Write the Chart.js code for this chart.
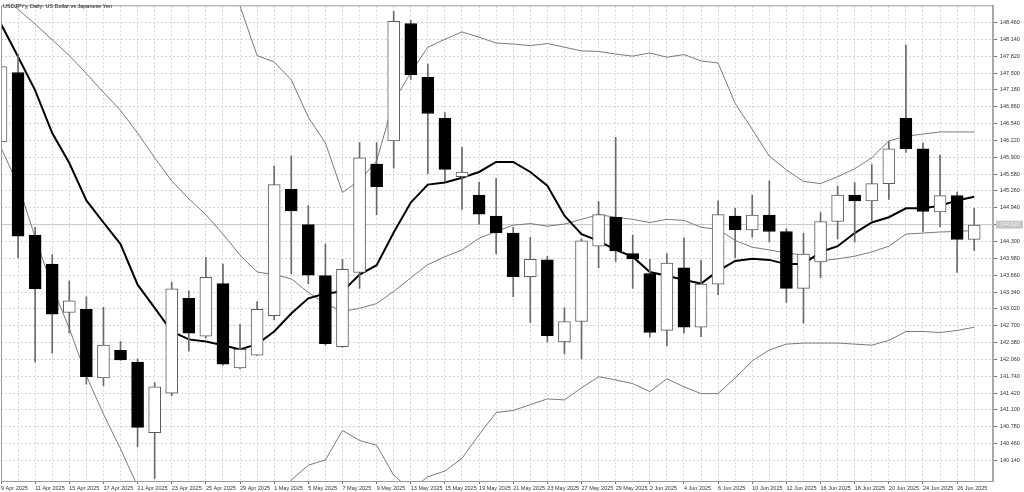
<!DOCTYPE html>
<html>
<head>
<meta charset="utf-8">
<script src="https://cdn.jsdelivr.net/npm/chart.js@4"></script>
<style>
  html, body { margin: 0; padding: 0; background: #fff; }
</style>
</head>
<body>
<canvas id="myChart" width="1024" height="492"></canvas>
<script>
// USDJPY daily, 9 Apr - 27 Jun 2025
const title = 'USDJPYy, Daily: US Dollar vs Japanese Yen';

const dates = [
  '9 Apr 2025', '10 Apr 2025', '11 Apr 2025', '14 Apr 2025', '15 Apr 2025', '16 Apr 2025', '17 Apr 2025', '18 Apr 2025',
  '21 Apr 2025', '22 Apr 2025', '23 Apr 2025', '24 Apr 2025', '25 Apr 2025', '28 Apr 2025', '29 Apr 2025', '30 Apr 2025',
  '1 May 2025', '2 May 2025', '5 May 2025', '6 May 2025', '7 May 2025', '8 May 2025', '9 May 2025', '12 May 2025',
  '13 May 2025', '14 May 2025', '15 May 2025', '16 May 2025', '19 May 2025', '20 May 2025', '21 May 2025', '22 May 2025',
  '23 May 2025', '26 May 2025', '27 May 2025', '28 May 2025', '29 May 2025', '30 May 2025', '2 Jun 2025', '3 Jun 2025',
  '4 Jun 2025', '5 Jun 2025', '6 Jun 2025', '9 Jun 2025', '10 Jun 2025', '11 Jun 2025', '12 Jun 2025', '13 Jun 2025',
  '16 Jun 2025', '17 Jun 2025', '18 Jun 2025', '19 Jun 2025', '20 Jun 2025', '23 Jun 2025', '24 Jun 2025', '25 Jun 2025',
  '26 Jun 2025', '27 Jun 2025'
];

const open = [146.19, 147.51, 144.42, 143.87, 142.95, 143.01, 141.71, 142.23, 142.01, 140.67, 141.42, 143.22, 142.50, 143.50, 141.90, 142.14,
  142.89, 145.29, 144.62, 143.65, 142.30, 143.71, 145.77, 146.21, 148.44, 147.42, 146.64, 145.53, 145.18, 144.78, 144.46, 143.63,
  143.95, 142.39, 142.78, 144.21, 144.76, 144.07, 143.69, 142.61, 143.80, 142.67, 143.49, 144.78, 144.52, 144.80, 144.49, 143.41,
  143.91, 144.68, 145.18, 145.07, 145.40, 146.64, 146.06, 144.86, 145.17, 144.34];
const high = [148.20, 147.86, 144.57, 144.05, 143.55, 143.25, 143.05, 142.40, 142.07, 141.62, 143.53, 143.36, 144.00, 143.87, 142.72, 143.16,
  145.73, 145.92, 144.98, 144.25, 143.96, 146.18, 146.18, 148.67, 148.50, 147.67, 146.75, 146.09, 145.43, 145.50, 144.57, 144.38,
  144.02, 143.04, 144.35, 145.06, 146.28, 144.42, 143.96, 144.07, 144.37, 143.94, 145.07, 144.93, 145.18, 145.45, 144.54, 144.46,
  144.85, 145.35, 145.42, 145.76, 146.20, 148.03, 146.17, 145.94, 145.24, 144.93];
const low = [145.90, 143.99, 142.01, 142.18, 142.56, 141.59, 141.56, 142.04, 140.40, 139.80, 141.37, 142.22, 142.47, 141.95, 141.88, 142.13,
  142.81, 143.69, 143.50, 142.33, 142.29, 143.41, 144.81, 145.69, 147.38, 145.59, 145.43, 144.91, 144.63, 144.07, 143.25, 142.76,
  142.39, 142.17, 142.07, 143.80, 143.92, 143.41, 142.48, 142.32, 142.56, 142.49, 143.29, 143.99, 144.38, 144.29, 143.14, 142.75,
  143.61, 144.35, 144.29, 144.70, 145.10, 145.99, 144.49, 144.58, 143.71, 144.13];
const close = [147.62, 144.40, 143.40, 142.92, 143.17, 141.73, 142.33, 142.05, 140.77, 141.54, 143.40, 142.56, 143.62, 141.97, 142.25, 143.01,
  145.38, 144.88, 143.66, 142.36, 143.77, 145.89, 145.34, 148.48, 147.47, 146.73, 145.67, 145.62, 144.82, 144.46, 143.63, 143.96,
  142.51, 142.78, 144.31, 144.81, 144.12, 143.97, 142.57, 143.89, 142.67, 143.49, 144.81, 144.52, 144.80, 144.49, 143.41, 144.06,
  144.68, 145.18, 145.07, 145.40, 146.06, 146.06, 144.87, 145.17, 144.34, 144.61];

// moving average (thick black)
const ma = [148.43, 147.81, 147.17, 146.36, 145.79, 145.08, 144.66, 144.25, 143.48, 143.04, 142.59, 142.44, 142.40, 142.33, 142.25, 142.35,
  142.59, 142.93, 143.22, 143.31, 143.35, 143.67, 143.85, 144.47, 145.04, 145.38, 145.42, 145.51, 145.62, 145.81, 145.81, 145.62,
  145.36, 144.79, 144.44, 144.31, 144.14, 144.01, 143.72, 143.65, 143.57, 143.50, 143.74, 143.93, 143.97, 143.95, 143.87, 143.87,
  144.10, 144.21, 144.46, 144.66, 144.76, 144.93, 144.93, 144.98, 145.08, 145.15];

// bollinger bands
const bbUpper = [151.9, 151.8, 151.7, 151.5, 151.3, 151.1, 150.9, 150.7, 150.5, 150.3, 150.1, 149.9, 149.7, 149.6,
  148.77, 147.83, 147.71, 147.37, 146.66, 146.17, 145.23, 145.46, 145.83, 146.96, 147.51, 147.99, 148.14, 148.28, 148.18, 148.07,
  148.05, 148.02, 148.06, 147.99, 147.92, 147.91, 147.86, 147.82, 147.88, 147.80, 147.85, 147.73, 147.69, 146.92, 146.43, 145.92,
  145.66, 145.44, 145.40, 145.53, 145.68, 145.89, 146.21, 146.30, 146.34, 146.38, 146.38, 146.38];
const bbMiddle = [148.99, 148.71, 148.43, 148.13, 147.83, 147.49, 147.13, 146.79, 146.36, 145.89, 145.45, 145.11, 144.81, 144.44, 144.04, 143.72,
  143.67, 143.59, 143.33, 143.12, 142.97, 143.03, 143.12, 143.35, 143.61, 143.86, 144.01, 144.14, 144.36, 144.49, 144.61, 144.64,
  144.59, 144.63, 144.72, 144.81, 144.76, 144.72, 144.66, 144.72, 144.70, 144.57, 144.53, 144.32, 144.19, 144.14, 144.08, 144.04,
  143.93, 143.97, 144.02, 144.10, 144.21, 144.44, 144.46, 144.48, 144.49, 144.51];
const bbLower = [146.08, 145.38, 144.38, 143.44, 142.65, 141.75, 141.02, 140.36, 139.65, 139.2, 138.9, 138.7, 138.6, 138.6, 138.7, 138.8,
  138.9, 139.77, 140.05, 140.15, 140.71, 140.52, 140.43, 139.86, 139.58, 139.83, 139.94, 140.18, 140.63, 141.05, 141.09, 141.20,
  141.31, 141.29, 141.52, 141.73, 141.67, 141.60, 141.45, 141.69, 141.54, 141.41, 141.41, 141.71, 142.03, 142.24, 142.35, 142.37,
  142.37, 142.37, 142.35, 142.33, 142.42, 142.59, 142.59, 142.57, 142.61, 142.67];

const yTicks = [140.14, 140.46, 140.78, 141.10, 141.42, 141.74, 142.06, 142.38, 142.70, 143.02, 143.34, 143.66, 143.98, 144.30,
  144.62, 144.94, 145.26, 145.58, 145.90, 146.22, 146.54, 146.86, 147.18, 147.50, 147.82, 148.14, 148.46];
const bid = 144.62;

const idx = dates.map((d, i) => i);
const up = idx.map(i => close[i] >= open[i]);
const asLine = arr => arr.map((v, i) => ({ x: i, y: v }));

const font = { family: 'Liberation Sans', size: 5.5 };

// frame, title and current price tag
const extras = {
  id: 'extras',
  afterDraw(chart) {
    const { ctx, chartArea: a, scales: { y } } = chart;
    ctx.save();
    ctx.strokeStyle = '#9a9a9a';
    ctx.lineWidth = 1;
    ctx.beginPath();
    ctx.moveTo(a.left + 0.5, a.bottom);
    ctx.lineTo(a.left + 0.5, a.top - 0.5);
    ctx.lineTo(a.right, a.top - 0.5);
    ctx.stroke();

    const py = y.getPixelForValue(bid);
    ctx.fillStyle = '#c6c6c6';
    ctx.fillRect(a.right + 3, py - 4, 27, 8);
    ctx.fillStyle = '#f2f2f2';
    ctx.font = '5.5px "Liberation Sans"';
    ctx.textBaseline = 'middle';
    ctx.fillText(bid.toFixed(3), a.right + 7, py);

    ctx.fillStyle = '#222';
    ctx.font = '5.5px "Liberation Sans"';
    ctx.textBaseline = 'top';
    ctx.fillText(title, 3, 4);
    ctx.restore();
  }
};

const ctx = document.getElementById('myChart');

new Chart(ctx, {
  type: 'bar',
  data: {
    datasets: [
      { type: 'line', data: asLine(ma), borderColor: '#000', borderWidth: 2, pointRadius: 0, order: 3 },
      { type: 'line', data: asLine(bbUpper), borderColor: '#7a7a7a', borderWidth: 1, pointRadius: 0, order: 3 },
      { type: 'line', data: asLine(bbMiddle), borderColor: '#7a7a7a', borderWidth: 1, pointRadius: 0, order: 3 },
      { type: 'line', data: asLine(bbLower), borderColor: '#7a7a7a', borderWidth: 1, pointRadius: 0, order: 3 },
      { type: 'line', data: [{ x: -1, y: bid }, { x: 60, y: bid }], borderColor: '#c8c8c8', borderWidth: 1, pointRadius: 0, order: 5 },
      {
        data: idx.map(i => ({ x: i, y: [open[i], close[i]] })),
        backgroundColor: up.map(u => u ? '#fff' : '#000'),
        borderColor: up.map(u => u ? '#5c5c5c' : '#000'),
        borderWidth: 1, borderSkipped: false, barThickness: 12, grouped: false, order: 1
      },
      {
        data: idx.map(i => ({ x: i, y: [low[i], high[i]] })),
        backgroundColor: '#6a6a6a', barThickness: 1, grouped: false, order: 2
      }
    ]
  },
  options: {
    responsive: false,
    animation: false,
    layout: { padding: { left: 1, top: 2, right: 0, bottom: 0 } },
    plugins: { legend: { display: false }, tooltip: { enabled: false } },
    scales: {
      x: {
        type: 'linear', min: 0, max: 58.1, offset: false,
        afterBuildTicks: a => { a.ticks = idx.map(i => ({ value: i })); },
        afterFit: a => { a.height = 11; },
        ticks: {
          autoSkip: false, maxRotation: 0, minRotation: 0, align: 'start', padding: 1,
          font: font, color: '#333',
          callback: (v, i) => (i % 2 ? '' : dates[i])
        },
        grid: {
          offset: false, color: '#d4d4d4', tickLength: 3, tickBorderDash: [],
          tickColor: c => (c.index % 2 ? 'rgba(0,0,0,0)' : '#777')
        },
        border: { display: true, color: '#9a9a9a', width: 1, dash: [2, 2] }
      },
      y: {
        position: 'right', min: 139.75, max: 148.767,
        afterBuildTicks: a => { a.ticks = yTicks.map(v => ({ value: v })); },
        afterFit: a => { a.width = 31; },
        ticks: { padding: 3, font: font, color: '#333', callback: v => Number(v).toFixed(3) },
        grid: { color: '#d4d4d4', tickLength: 4, tickColor: '#777', tickBorderDash: [] },
        border: { display: true, color: '#a8a8a8', width: 2, dash: [2, 2] }
      }
    }
  },
  plugins: [extras]
});
</script>
</body>
</html>
